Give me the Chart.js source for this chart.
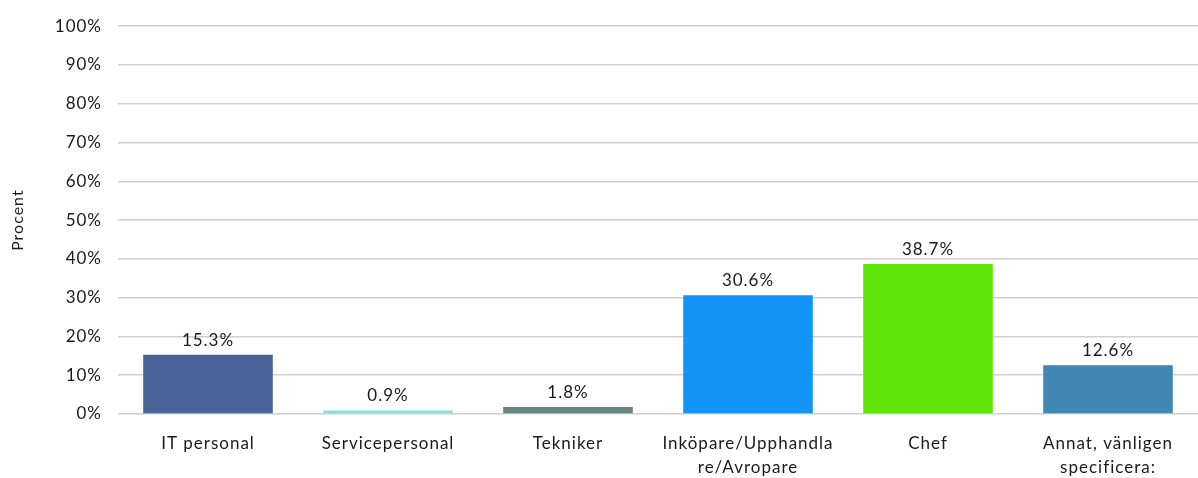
<!DOCTYPE html>
<html>
<head>
<meta charset="utf-8">
<script src="https://cdn.jsdelivr.net/npm/chart.js@4"></script>
<style>
    body { margin: 0; background: #fff; }
    #wrap { width: 1198px; height: 478px; }
</style>
</head>
<body>
<div id="wrap"><canvas id="myChart" width="1198" height="478"></canvas></div>
<script>
// categories (multi-line labels as in the original)
const categories = [
    "IT personal",
    "Servicepersonal",
    "Tekniker",
    ["Inköpare/Upphandla", "re/Avropare"],
    "Chef",
    ["Annat, vänligen", "specificera:"]
]
const percentValues = [15.3, 0.9, 1.8, 30.6, 38.7, 12.6]
const barColors = ["#4a6399", "#86e0d9", "#678580", "#1394f8", "#5ee406", "#4087b2"]

const fontFamily = "Lato, 'Open Sans', sans-serif"
const fontSize = 17
const spacing = "1px" // the original text is spread out a bit

// wider letter spacing for every text on the canvas
const spreadText = {
    id: "spreadText",
    beforeDraw(chart) {
        chart.ctx.letterSpacing = spacing
    }
}

// draws the value above each bar
const valueLabels = {
    id: "valueLabels",
    afterDatasetsDraw(chart) {
        const ctx = chart.ctx
        const meta = chart.getDatasetMeta(0)
        ctx.save()
        ctx.letterSpacing = spacing
        ctx.font = fontSize + "px " + fontFamily
        ctx.fillStyle = "#1a1a1a"
        ctx.textAlign = "center"
        ctx.textBaseline = "bottom"
        meta.data.forEach((bar, i) => {
            ctx.fillText(percentValues[i].toFixed(1) + "%", bar.x, bar.y - 6)
        })
        ctx.restore()
    }
}

const ctx = document.getElementById("myChart")
const myChart = new Chart(ctx, {
    type: "bar",
    data: {
        labels: categories,
        datasets: [{
            data: percentValues,
            backgroundColor: barColors,
            borderWidth: 0,
            barPercentage: 0.72,
            categoryPercentage: 1.0
        }]
    },
    options: {
        responsive: false,
        animation: false,
        layout: { padding: { top: 23, right: 0, bottom: 0, left: 0 } },
        scales: {
            x: {
                grid: { display: false },
                border: { display: false },
                ticks: {
                    color: "#1a1a1a",
                    font: { family: fontFamily, size: fontSize, lineHeight: 1.41 },
                    maxRotation: 0,
                    autoSkip: false,
                    padding: 10
                },
                afterFit(scale) { scale.height = 64 }
            },
            y: {
                min: 0,
                max: 100,
                ticks: {
                    stepSize: 10,
                    color: "#1a1a1a",
                    font: { family: fontFamily, size: fontSize },
                    padding: 16,
                    callback: v => v + "%"
                },
                grid: { color: "#d0d0d0", lineWidth: 1.5, drawTicks: false },
                border: { display: false },
                title: {
                    display: true,
                    text: "Procent",
                    color: "#1a1a1a",
                    font: { family: fontFamily, size: 16 },
                    padding: { top: 8, bottom: 0 }
                },
                afterFit(scale) { scale.width = 118 }
            }
        },
        plugins: {
            legend: { display: false },
            tooltip: { enabled: false }
        }
    },
    plugins: [spreadText, valueLabels]
})
</script>
</body>
</html>
